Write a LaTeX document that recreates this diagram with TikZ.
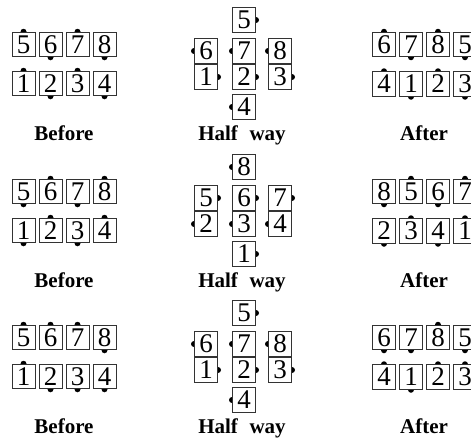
\documentclass[tikz,border=0pt]{standalone}
\usepackage{fontspec}
\setmainfont{Liberation Serif}
\usetikzlibrary{backgrounds}
\tikzset{
  card/.style={draw=black!80, line width=1pt, fill=white, minimum width=23pt,
    minimum height=24.5pt, inner sep=0pt, font=\fontsize{27}{27}\selectfont},
  caption/.style={anchor=base, inner sep=0pt, font=\fontsize{21}{21}\selectfont\bfseries},
  knob/.style={fill=black}
}
\newcommand\card[5]{%
  \node[card] (#1) at (#2,#3) {#4};
  \begin{pgfonlayer}{background}\fill[knob] (#1.#5) circle (3pt);\end{pgfonlayer}%
}
\newcommand\captions[1]{%
  \node[caption] (#1-lb) at (64,140) {Before};
  \node[caption] (#1-lh) at (242,140) {Half\hspace{0.55em}way};
  \node[caption] (#1-la) at (424,140) {After};
}
\begin{document}
\begin{tikzpicture}[x=1pt,y=-1pt]
\useasboundingbox (0,0) rectangle (471,439);
\clip (0,0) rectangle (471,439);
% ---------- block 1
\begin{scope}
\card{a-b5}{23.5}{44.5}{5}{north}
\card{a-b6}{50.5}{44.5}{6}{south}
\card{a-b7}{77.5}{44.5}{7}{north}
\card{a-b8}{104.5}{44.5}{8}{south}
\card{a-b1}{23.5}{83.5}{1}{north}
\card{a-b2}{50.5}{83.5}{2}{south}
\card{a-b3}{77.5}{83.5}{3}{north}
\card{a-b4}{104.5}{83.5}{4}{south}
\card{a-h5}{244}{20}{5}{east}
\card{a-h6}{206}{51}{6}{west}
\card{a-h7}{244}{51}{7}{west}
\card{a-h8}{280}{51}{8}{west}
\card{a-h1}{206}{77}{1}{east}
\card{a-h2}{244}{77}{2}{east}
\card{a-h3}{280}{77}{3}{east}
\card{a-h4}{244}{107}{4}{west}
\card{a-a6}{384}{44.5}{6}{north}
\card{a-a7}{411}{44.5}{7}{south}
\card{a-a8}{438}{44.5}{8}{north}
\card{a-a5}{465}{44.5}{5}{south}
\card{a-a4}{384}{84}{4}{north}
\card{a-a1}{411}{84}{1}{south}
\card{a-a2}{438}{84}{2}{north}
\card{a-a3}{465}{84}{3}{south}
\captions{a}
\end{scope}
% ---------- block 2
\begin{scope}[yshift=-147pt]
\card{b-b5}{23.5}{44.5}{5}{south}
\card{b-b6}{50.5}{44.5}{6}{north}
\card{b-b7}{77.5}{44.5}{7}{south}
\card{b-b8}{104.5}{44.5}{8}{north}
\card{b-b1}{23.5}{83.5}{1}{south}
\card{b-b2}{50.5}{83.5}{2}{north}
\card{b-b3}{77.5}{83.5}{3}{south}
\card{b-b4}{104.5}{83.5}{4}{north}
\card{b-h8}{244}{20}{8}{west}
\card{b-h5}{206}{51}{5}{east}
\card{b-h6}{244}{51}{6}{east}
\card{b-h7}{280}{51}{7}{east}
\card{b-h2}{206}{77}{2}{west}
\card{b-h3}{244}{77}{3}{west}
\card{b-h4}{280}{77}{4}{west}
\card{b-h1}{244}{107}{1}{east}
\card{b-a8}{384}{44.5}{8}{south}
\card{b-a5}{411}{44.5}{5}{north}
\card{b-a6}{438}{44.5}{6}{south}
\card{b-a7}{465}{44.5}{7}{north}
\card{b-a2}{384}{84}{2}{south}
\card{b-a3}{411}{84}{3}{north}
\card{b-a4}{438}{84}{4}{south}
\card{b-a1}{465}{84}{1}{north}
\captions{b}
\end{scope}
% ---------- block 3
\begin{scope}[yshift=-293pt]
\card{c-b5}{23.5}{44.5}{5}{north}
\card{c-b6}{50.5}{44.5}{6}{north}
\card{c-b7}{77.5}{44.5}{7}{north}
\card{c-b8}{104.5}{44.5}{8}{south}
\card{c-b1}{23.5}{83.5}{1}{north}
\card{c-b2}{50.5}{83.5}{2}{south}
\card{c-b3}{77.5}{83.5}{3}{south}
\card{c-b4}{104.5}{83.5}{4}{south}
\card{c-h5}{244}{20}{5}{east}
\card{c-h6}{206}{51}{6}{west}
\card{c-h7}{244}{51}{7}{west}
\card{c-h8}{280}{51}{8}{west}
\card{c-h1}{206}{77}{1}{east}
\card{c-h2}{244}{77}{2}{east}
\card{c-h3}{280}{77}{3}{east}
\card{c-h4}{244}{107}{4}{west}
\card{c-a6}{384}{44.5}{6}{south}
\card{c-a7}{411}{44.5}{7}{south}
\card{c-a8}{438}{44.5}{8}{north}
\card{c-a5}{465}{44.5}{5}{south}
\card{c-a4}{384}{84}{4}{north}
\card{c-a1}{411}{84}{1}{south}
\card{c-a2}{438}{84}{2}{north}
\card{c-a3}{465}{84}{3}{north}
\captions{c}
\end{scope}
\end{tikzpicture}
\end{document}
